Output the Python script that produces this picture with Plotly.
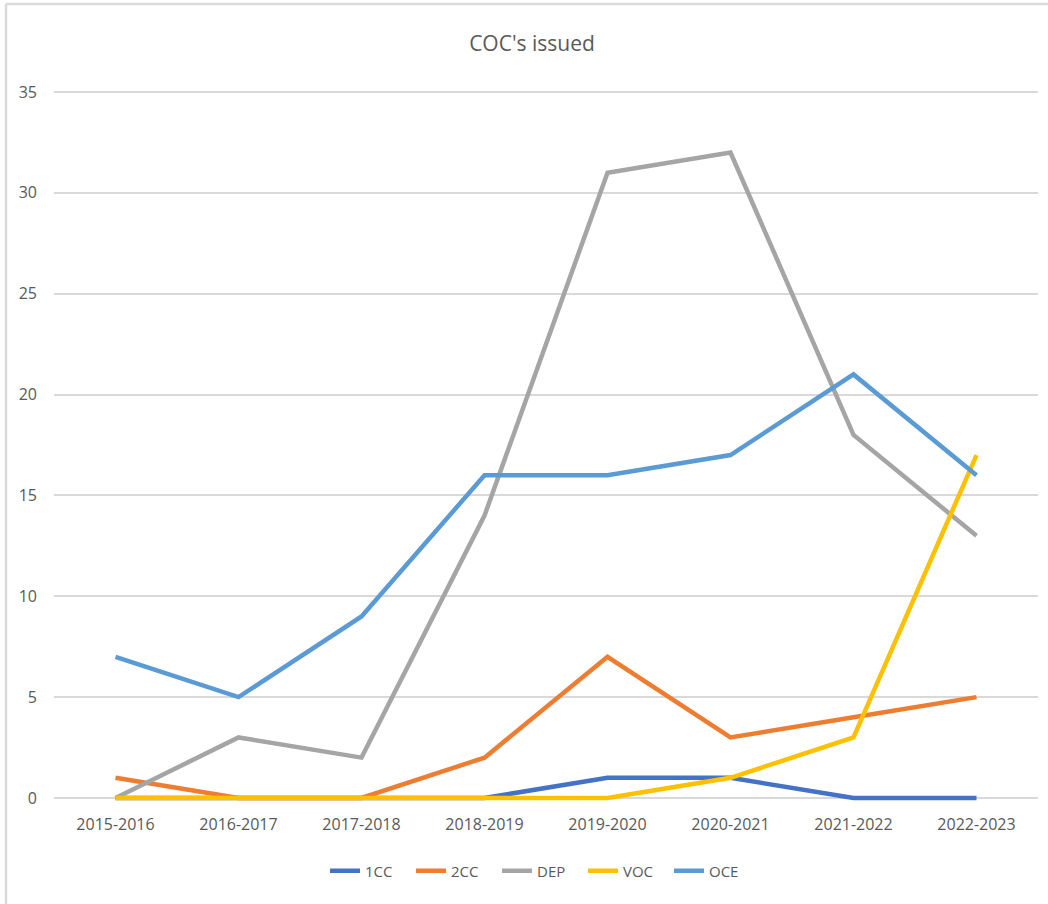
'''
    Line chart of COC's issued per season, by certificate type.
'''
import plotly.graph_objects as go

# Seasons on the x axis
seasons = ["2015-2016", "2016-2017", "2017-2018", "2018-2019",
           "2019-2020", "2020-2021", "2021-2022", "2022-2023"]

# Counts per certificate type
coc_1cc = [0, 0, 0, 0, 1, 1, 0, 0]
coc_2cc = [1, 0, 0, 2, 7, 3, 4, 5]
coc_dep = [0, 3, 2, 14, 31, 32, 18, 13]
coc_voc = [0, 0, 0, 0, 0, 1, 3, 17]
coc_oce = [7, 5, 9, 16, 16, 17, 21, 16]

y_ticks = [0, 5, 10, 15, 20, 25, 30, 35]

FONT = "Open Sans, DejaVu Sans Condensed, sans-serif"
TEXT_COLOR = "#595959"
GRID_COLOR = "#d9d9d9"

series = [
    ("1CC", coc_1cc, "#4472C4"),
    ("2CC", coc_2cc, "#ED7D31"),
    ("DEP", coc_dep, "#A5A5A5"),
    ("VOC", coc_voc, "#FFC000"),
    ("OCE", coc_oce, "#5B9BD5"),
]

fig = go.Figure()
for name, values, color in series:
    fig.add_trace(go.Scatter(
        x=seasons, y=values, name=name, mode="lines",
        line=dict(color=color, width=4.5, shape="linear"),
    ))

W, H = 1048, 904
ML, MR, MT, MB = 54, 10, 89, 103
pw, ph = W - ML - MR, H - MT - MB

fig.update_layout(
    width=W, height=H,
    margin=dict(l=ML, r=MR, t=MT, b=MB, autoexpand=False),
    paper_bgcolor="white", plot_bgcolor="white",
    font=dict(family=FONT, color=TEXT_COLOR, size=16),
    title=dict(
        text="COC's issued", font=dict(size=21, color=TEXT_COLOR),
        x=532 / W, xref="container", xanchor="center",
        y=1 - 44 / H, yref="container", yanchor="middle",
    ),
    legend=dict(
        orientation="h", x=(540 - ML) / pw, xanchor="center",
        y=-70 / ph, yanchor="middle",
        font=dict(size=15, color=TEXT_COLOR),
        traceorder="normal", entrywidth=41, entrywidthmode="pixels",
    ),
    showlegend=True,
)

fig.update_xaxes(
    type="category", range=[-0.5, len(seasons) - 0.5],
    showgrid=False, showline=False, ticks="", tickangle=0,
    ticklabelstandoff=12, tickfont=dict(size=16, color=TEXT_COLOR),
)
fig.update_yaxes(
    range=[-0.15, 35.15], tickvals=y_ticks,
    showgrid=True, gridcolor=GRID_COLOR, gridwidth=1.5,
    zeroline=False, showline=False, ticks="",
    ticklabelstandoff=16, tickfont=dict(size=16, color=TEXT_COLOR),
)

# Light chart border (left and top edges visible in the reference)
bx0 = (6 - ML) / pw
by1 = 1 + (MT - 4) / ph
fig.add_shape(type="line", xref="paper", yref="paper",
              x0=bx0, x1=bx0, y0=-MB / ph - 0.01, y1=by1,
              line=dict(color=GRID_COLOR, width=2.5))
fig.add_shape(type="line", xref="paper", yref="paper",
              x0=bx0, x1=1 + MR / pw + 0.01, y0=by1, y1=by1,
              line=dict(color=GRID_COLOR, width=2.5))

# Remove the default page margin so the figure sits at the window origin
fig.write_html("out.html", config={"displayModeBar": False},
               post_script="document.body.style.margin='0';")
